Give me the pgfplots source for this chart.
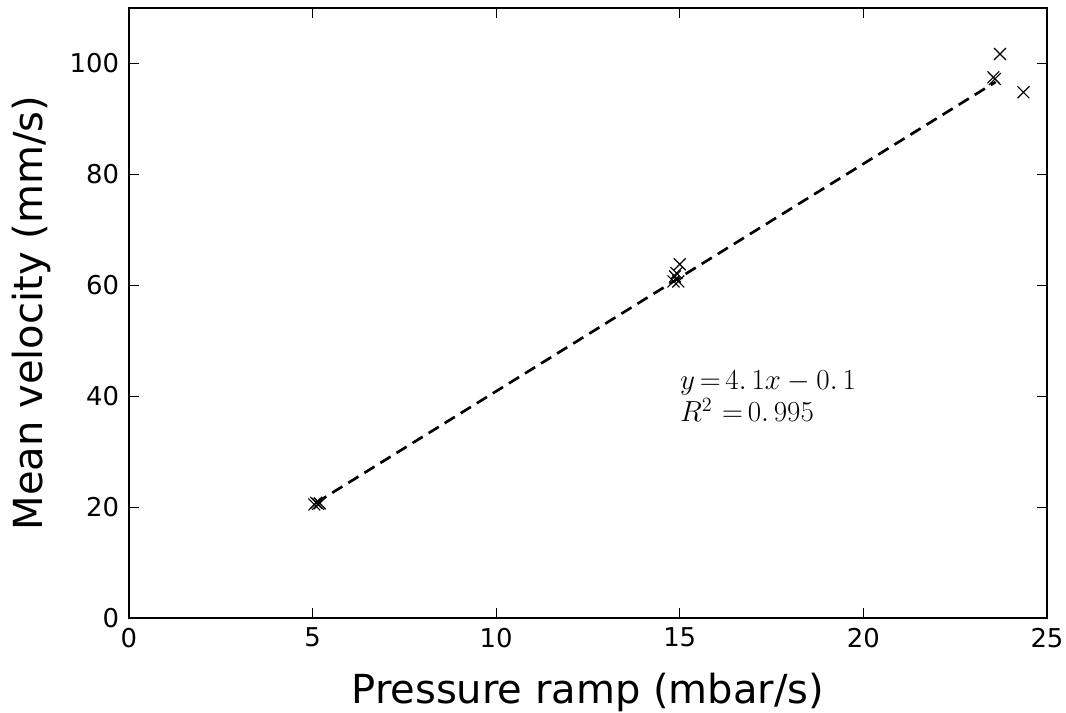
\documentclass[border=0pt]{standalone}
\usepackage{pgfplots}
\pgfplotsset{compat=1.18}
\usepackage{fontspec}
\setmainfont{DejaVu Sans}
\begin{document}
\begin{tikzpicture}
\begin{axis}[
  scale only axis,
  width=656pt, height=436pt,
  xmin=0, xmax=25, ymin=0, ymax=110,
  xtick={0,5,10,15,20,25},
  ytick={0,20,40,60,80,100},
  tick align=inside,
  major tick length=7pt,
  tick style={black, line width=0.8pt},
  axis line style={line width=1.5pt},
  ticklabel style={font=\fontsize{18.5}{20}\selectfont},
  xticklabel style={yshift=-3.5pt},
  yticklabel style={xshift=-3.5pt},
  /pgf/number format/assume math mode=true,
  xlabel={Pressure ramp (mbar/s)},
  ylabel={Mean velocity (mm/s)},
  label style={font=\fontsize{28.6}{32}\selectfont},
  xlabel style={at={(axis description cs:0.5,-0.1392)}, anchor=base},
  ylabel style={at={(axis description cs:-0.0936,0.5)}, anchor=base},
  clip=false,
]
\addplot[black, line width=1.9pt, dash pattern=on 8.5pt off 5pt] coordinates {(5.1,20.81) (23.6,96.66)};
\addplot[only marks, mark=x, mark size=6pt, black, line width=0.8pt] coordinates {
(5.05,20.5) (5.1,20.8) (5.15,20.6) (5.2,20.7)
(15.0,63.8) (14.91,62.2) (14.87,61.6) (14.83,60.7) (14.96,60.7)
(23.72,101.7) (23.58,97.2) (23.54,97.5) (24.36,94.8)
};
\node[anchor=base west, inner sep=0pt, font=\fontsize{21}{22}\selectfont] at (axis cs:15.0,41.3) {$\thickmuskip=3mu y=4.\,1x-0.\,1$};
\node[anchor=base west, inner sep=0pt, font=\fontsize{21}{22}\selectfont] at (axis cs:15.0,35.4) {$\thickmuskip=3mu R^2\,=0.\,995$};
\coordinate (SW) at (rel axis cs:0,0);
\coordinate (NE) at (rel axis cs:1,1);
\end{axis}
\pgfresetboundingbox
\path ([shift={(-92.1pt,-67.1pt)}]SW) rectangle ([shift={(13.6pt,5.7pt)}]NE);
\end{tikzpicture}
\end{document}
